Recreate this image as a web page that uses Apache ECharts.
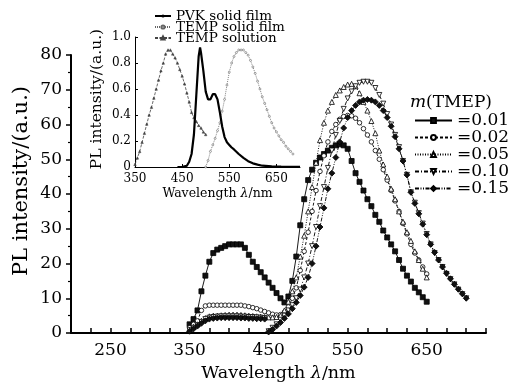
<!DOCTYPE html>
<html><head><meta charset="utf-8">
<script src="https://cdn.jsdelivr.net/npm/echarts@6/dist/echarts.min.js"></script>
<style>html,body{margin:0;padding:0;background:#fff}#c{width:512px;height:387px}</style>
</head><body><div id="c"></div>
<script>
// ---------- main chart data ----------
const wl01 = [350,355,360,365,370,375,380,385,390,395,400,405,410,415,420,425,430,435,440,445,450,455,460,465,470,475,480,485,490,495,500,505,510,515,520,525,530,535,540,545,550,555,560,565,570,575,580,585,590,595,600,605,610,615,620,625,630,635,640,645,650];
const v01 = [2.5,4,6.5,12,16.5,20.5,23,24,24.5,25,25.5,25.5,25.5,25.5,24.5,22.5,20.5,19,17.5,16,14.5,13,11.5,10,8.8,10.5,15,22,31,38.5,44,47,49,50.5,51.5,52.5,53.3,54,54.3,54,53,49.5,46,43.5,41,38.5,36.5,34,32,29.5,27.5,25.5,23.5,21,18.5,16.5,14.8,13,11.7,10.3,9];

const wl02 = [350,355,360,365,370,375,380,385,390,395,400,405,410,415,420,425,430,435,440,445,450,455,460,465,470,475,480,485,490,495,500,505,510,515,520,525,530,535,540,545,550,555,560,565,570,575,580,585,590,595,600,605,610,615,620,625,630,635,640,645,650];
const v02 = [1.5,2.5,3.5,6.5,7.8,8,8,8,8,8,8,8,8,8,7.8,7.6,7.3,7,6.6,6.2,5.8,5.4,5.2,5.3,6,7.5,10,13,18,23.5,29,35,41,46.5,51,55,58,60,61.5,62.3,62.6,62.5,61.8,60.5,58.8,57,55,52.5,50,47,44,41,38,35,31.5,28.5,25.5,23,21,19,17];

const wl05 = [350,355,360,365,370,375,380,385,390,395,400,405,410,415,420,425,430,435,440,445,450,455,460,465,470,475,480,485,490,495,500,505,510,515,520,525,530,535,540,545,550,555,560,565,570,575,580,585,590,595,600,605,610,615,620,625,630,635,640,645,650];
const v05 = [1,1.8,2.5,3.5,4.3,4.8,5,5,5.1,5.2,5.3,5.3,5.3,5.2,5.1,5,4.9,4.8,4.7,4.6,4.5,4.5,4.6,5,6.5,9,12,16,22,28,35,42,49,55.5,60.5,64,66.5,68.5,69.8,70.8,71.5,71.7,71,69,66.5,64,61,57.5,52.5,48.5,45,41.5,38.5,35,32,29,26.5,23.5,21,18.5,16];

// excitation part (350-445) and emission part (450-700), separated by a gap
const wl10 = [350,355,360,365,370,375,380,385,390,395,400,405,410,415,420,425,430,435,440,445,447.5,450,455,460,465,470,475,480,485,490,495,500,505,510,515,520,525,530,535,540,545,550,555,560,565,570,575,580,585,590,595,600,605,610,615,620,625,630,635,640,645,650,655,660,665,670,675,680,685,690,695,700];
const v10 = [0.8,1.5,2.2,3.2,4,4.4,4.6,4.7,4.8,4.8,4.8,4.8,4.8,4.7,4.7,4.6,4.6,4.5,4.4,4.3,null,0.5,1.5,2.5,3.8,5,6.5,8,10,12.5,16,20,25,30.5,36.5,42,47.5,52.5,57,61,64.5,67.5,69.5,71,72,72.3,72.3,72,70.5,68.5,66,63,60,57,53.5,49.5,45.5,40.5,37.5,34.5,31.5,28.5,25.5,23,21,19,17,15.5,14,12.5,11.2,10];

const wl15 = [350,355,360,365,370,375,380,385,390,395,400,405,410,415,420,425,430,435,440,445,447.5,450,455,460,465,470,475,480,485,490,495,500,505,510,515,520,525,530,535,540,545,550,555,560,565,570,575,580,585,590,595,600,605,610,615,620,625,630,635,640,645,650,655,660,665,670,675,680,685,690,695,700];
const v15 = [0.5,1.2,2,2.8,3.5,4,4.2,4.3,4.4,4.4,4.4,4.4,4.4,4.3,4.3,4.2,4.2,4.1,4.1,4,null,0.3,1,2,3,4.2,5.5,7,8.8,10.8,13.2,16,20,25,30.5,36,41.5,46,50.5,55,59,62,64,65.5,66.5,67,67.2,67,66.5,65.5,64,62,59.5,56.5,53,49.5,45.5,40.5,37.3,34.3,31.3,28.3,25.5,23.2,21,19,17.2,15.6,14,12.6,11.3,10];

const seriesNames = ['=0.01','=0.02','=0.05','=0.10','=0.15'];
const mainXTicks = [250,350,450,550,650];

// ---------- inset data ----------
const wlPVK = [440,450,455,460,465,470,475,480,485,488,490,495,500,505,510,515,518,520,525,530,535,540,545,550,555,560,570,580,590,600,610,620,640,660,680,700];
const vPVK = [0,0,0.005,0.01,0.04,0.1,0.25,0.55,0.85,0.92,0.88,0.74,0.58,0.52,0.52,0.56,0.57,0.56,0.52,0.42,0.31,0.23,0.19,0.17,0.15,0.135,0.1,0.07,0.045,0.028,0.018,0.01,0.005,0.003,0.002,0.002];

const wlFilm = [500,505,510,515,520,525,530,535,540,545,550,555,560,565,570,575,580,585,590,595,600,605,610,615,620,625,630,635,640,645,650,655,660,665,670,675,680,685];
const vFilm = [0,0.05,0.12,0.17,0.22,0.28,0.34,0.43,0.52,0.63,0.73,0.8,0.85,0.88,0.9,0.9,0.9,0.88,0.86,0.82,0.77,0.72,0.66,0.6,0.54,0.49,0.44,0.39,0.34,0.3,0.27,0.24,0.21,0.19,0.16,0.14,0.12,0.1];

const wlSol = [350,355,360,365,370,375,380,385,390,395,400,405,410,415,420,425,430,435,440,445,450,455,460,465,470,475,480,485,490,495,500];
const vSol = [0.02,0.07,0.12,0.19,0.26,0.33,0.4,0.46,0.53,0.6,0.67,0.74,0.8,0.87,0.9,0.9,0.87,0.84,0.8,0.75,0.7,0.64,0.57,0.5,0.42,0.38,0.35,0.32,0.3,0.27,0.25];

const insetNames = ['PVK solid film','TEMP solid film','TEMP solution'];

function pairs(w, v){ return w.map((x,i)=>[x, v[i]]); }

const F = 'DejaVu Serif';
const chart = echarts.init(document.getElementById('c'));

function mainSeries(name, w, v, symbol, filled, dash, rot){
  return {
    name, type:'line', xAxisIndex:0, yAxisIndex:0, data: pairs(w,v),
    symbol, symbolSize: symbol==='diamond'?6:(symbol==='circle'?4.5:5), symbolRotate: rot||0,
    connectNulls:false,
    lineStyle:{color:'#000', width:0.9, type:dash},
    itemStyle:{color: filled?'#111':'#fff', borderColor:'#000', borderWidth:0.8},
    emphasis:{disabled:true}, z:5
  };
}

const option = {
  animation:false,
  backgroundColor:'#fff',
  textStyle:{fontFamily:F, color:'#000'},
  title:{
    text:'{i|m}(TMEP)', left:405, top:89,
    textStyle:{fontFamily:F, fontSize:17, fontWeight:'normal', color:'#000',
      rich:{i:{fontFamily:F, fontSize:17, fontStyle:'italic', color:'#000'}}}
  },
  legend:[
    {data:seriesNames, orient:'vertical', left:414, top:112, padding:0, itemWidth:37, itemHeight:6, itemGap:0,
     selectedMode:false, textStyle:{fontFamily:F, fontSize:17, lineHeight:16.7, color:'#000'}},
    {data:insetNames, orient:'vertical', left:154, top:9, padding:0, itemWidth:16, itemHeight:4, itemGap:-3,
     selectedMode:false, textStyle:{fontFamily:F, fontSize:13.5, lineHeight:14, color:'#000'}}
  ],
  grid:[
    {left:71, top:55, width:415, height:282},
    {left:135, top:37, width:165, height:130}
  ],
  xAxis:[
    {type:'value', gridIndex:0, min:200, max:725, interval:25,
     name:'Wavelength {i|λ}/nm', nameLocation:'middle', nameGap:31,
     nameTextStyle:{fontFamily:F, fontSize:17.5, color:'#000', verticalAlign:'top', rich:{i:{fontFamily:F, fontSize:17.5, fontStyle:'italic', color:'#000'}}},
     axisLine:{lineStyle:{color:'#000', width:2}},
     axisTick:{inside:true, length:5, lineStyle:{color:'#000', width:1.5}},
     axisLabel:{interval:0, margin:9, fontFamily:F, fontSize:17, color:'#000',
       formatter:v=> mainXTicks.indexOf(v)>=0 ? String(v) : ''},
     splitLine:{show:false}},
    {type:'value', gridIndex:1, min:350, max:700, interval:100,
     name:'Wavelength {i|λ}/nm', nameLocation:'middle', nameGap:20,
     nameTextStyle:{fontFamily:F, fontSize:12.5, color:'#000', verticalAlign:'top', rich:{i:{fontFamily:F, fontSize:12.5, fontStyle:'italic', color:'#000'}}},
     axisLine:{lineStyle:{color:'#000', width:1}},
     axisTick:{inside:true, length:3, lineStyle:{color:'#000', width:1}},
     axisLabel:{margin:6, fontFamily:F, fontSize:12, color:'#000', showMaxLabel:false},
     splitLine:{show:false}},
  ],
  yAxis:[
    {type:'value', gridIndex:0, min:0, max:80, interval:10,
     axisLine:{show:true, lineStyle:{color:'#000', width:2}},
     axisTick:{show:true, length:5, lineStyle:{color:'#000', width:1.5}},
     minorTick:{show:true, splitNumber:2, length:3, lineStyle:{color:'#000', width:1.2}},
     axisLabel:{margin:9, fontFamily:F, fontSize:17, color:'#000'},
     splitLine:{show:false}},
    {type:'value', gridIndex:1, min:0, max:1.0, interval:0.2,
     axisLine:{show:true, lineStyle:{color:'#000', width:1}},
     axisTick:{show:true, inside:true, length:3, lineStyle:{color:'#000', width:1}},
     axisLabel:{margin:4, fontFamily:F, fontSize:12, color:'#000', formatter:v=> v===0?'0':v.toFixed(1)},
     splitLine:{show:false}}
  ],
  graphic:[
    {type:'text', x:22, y:181, rotation:Math.PI/2,
     style:{text:'PL intensity/(a.u.)', fontFamily:F, fontSize:21, fill:'#000', align:'center', verticalAlign:'middle'}},
    {type:'text', x:97, y:99, rotation:Math.PI/2,
     style:{text:'PL intensity/(a.u.)', fontFamily:F, fontSize:15.5, fill:'#000', align:'center', verticalAlign:'middle'}}
  ],
  series:[
    mainSeries(seriesNames[0], wl01, v01, 'rect', true, 'solid'),
    mainSeries(seriesNames[1], wl02, v02, 'circle', false, [3,2]),
    mainSeries(seriesNames[2], wl05, v05, 'triangle', false, [1,1.5]),
    mainSeries(seriesNames[3], wl10, v10, 'triangle', false, [4,2,1,2], 180),
    mainSeries(seriesNames[4], wl15, v15, 'diamond', true, [4,1.5,1,1.5,1,1.5]),
    {name:insetNames[0], type:'line', xAxisIndex:1, yAxisIndex:1, data:pairs(wlPVK,vPVK),
     symbol:'circle', symbolSize:1.5, showSymbol:false, lineStyle:{color:'#000', width:2.2},
     itemStyle:{color:'#000'}, emphasis:{disabled:true}, z:6},
    {name:insetNames[1], type:'line', xAxisIndex:1, yAxisIndex:1, data:pairs(wlFilm,vFilm),
     symbol:'circle', symbolSize:2, lineStyle:{color:'#666', width:0.8, type:[1,1]},
     itemStyle:{color:'#fff', borderColor:'#666', borderWidth:0.6}, emphasis:{disabled:true}, z:5},
    {name:insetNames[2], type:'line', xAxisIndex:1, yAxisIndex:1, data:pairs(wlSol,vSol),
     symbol:'triangle', symbolSize:2.5, lineStyle:{color:'#444', width:0.8, type:[3,1.5]},
     itemStyle:{color:'#444', borderColor:'#444', borderWidth:0.5}, emphasis:{disabled:true}, z:5}
  ]
};
chart.setOption(option);
</script>
</body></html>
